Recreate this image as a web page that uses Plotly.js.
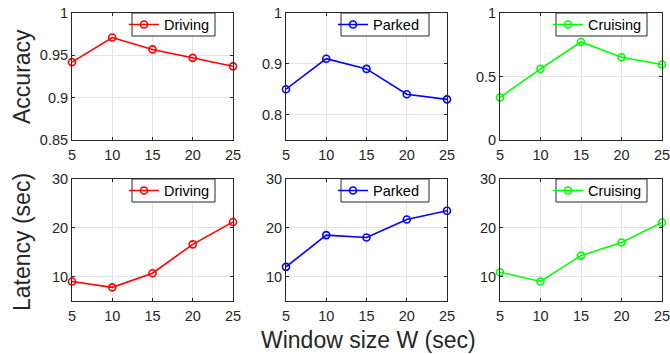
<!DOCTYPE html>
<html><head><meta charset="utf-8">
<script src="https://cdn.plot.ly/plotly-3.0.1.min.js"></script>
<style>html,body{margin:0;padding:0;background:#fff}#plot{width:670px;height:354px}</style>
</head><body><div id="plot"></div>
<script>
const windowSizes = [5, 10, 15, 20, 25];
const modes = ["Driving", "Parked", "Cruising"];
const colors = ["#ff0000", "#0000ff", "#00ff00"];
const accDriving = [0.942, 0.971, 0.957, 0.947, 0.937];
const accParked = [0.85, 0.91, 0.89, 0.84, 0.83];
const accCruising = [0.335, 0.56, 0.772, 0.651, 0.595];
const latDriving = [9.0, 7.8, 10.7, 16.6, 21.2];
const latParked = [12.0, 18.5, 18.0, 21.7, 23.5];
const latCruising = [10.9, 9.0, 14.3, 17.0, 21.1];
const accRanges = [[0.85, 1], [0.75, 1], [0, 1]];
const accTicks = [[0.85, 0.9, 0.95, 1], [0.8, 0.9, 1], [0, 0.5, 1]];
const accTickText = [["0.85", "0.9", "0.95", "1"], ["0.8", "0.9", "1"], ["0", "0.5", "1"]];
const latRange = [5, 30];
const latTicks = [10, 20, 30];
const xTicks = [5, 10, 15, 20, 25];
const yTitles = ["Accuracy", "Latency (sec)"];
const xTitle = "Window size W (sec)";

const accData = [accDriving, accParked, accCruising];
const latData = [latDriving, latParked, latCruising];

const W = 670, H = 354;
const xDomains = [[72/W, 233/W], [286/W, 447/W], [500/W, 662/W]];
const yTop = [(H-140)/H, (H-13)/H];
const yBot = [(H-301)/H, (H-179)/H];
// legend box extents in pixels (left, right) per column, (top, bottom) per row
const legBoxX = [[132, 215], [341, 429], [556, 647]];
const legBoxY = [[13, 36], [179, 202]];

const axisColor = "#262626";
const fam = "Liberation Sans, Arial, sans-serif";
const tickFont = {family: fam, size: 14.5, color: axisColor};

const traces = [];
const layout = {
  width: W, height: H,
  margin: {l: 0, r: 0, t: 0, b: 0},
  paper_bgcolor: "#fff", plot_bgcolor: "#fff",
  font: {family: fam, color: axisColor},
  annotations: [], shapes: []
};

function axisBase() {
  return {
    showline: true, linecolor: axisColor, linewidth: 1, mirror: "ticks",
    ticks: "inside", ticklen: 3, tickcolor: axisColor, tickwidth: 1,
    showgrid: true, gridcolor: "#e3e3e3", gridwidth: 1,
    zeroline: false, tickfont: tickFont, fixedrange: true,
    ticklabeloverflow: "allow"
  };
}

let idx = 0;
for (let row = 0; row < 2; row++) {
  for (let col = 0; col < 3; col++) {
    idx++;
    const xa = idx === 1 ? "x" : "x" + idx;
    const ya = idx === 1 ? "y" : "y" + idx;
    const lg = idx === 1 ? "legend" : "legend" + idx;
    const vals = row === 0 ? accData[col] : latData[col];
    traces.push({
      x: windowSizes, y: vals, xaxis: xa, yaxis: ya, legend: lg,
      name: modes[col], type: "scatter", mode: "lines+markers",
      line: {color: colors[col], width: 1.6},
      marker: {symbol: "circle-open", size: 7, color: colors[col], line: {width: 1.6, color: colors[col]}},
      cliponaxis: false, showlegend: true
    });
    const xk = idx === 1 ? "xaxis" : "xaxis" + idx;
    const yk = idx === 1 ? "yaxis" : "yaxis" + idx;
    layout[xk] = Object.assign(axisBase(), {
      domain: xDomains[col], anchor: ya, range: [5, 25],
      tickvals: xTicks, ticktext: xTicks.map(String), ticklabelstandoff: 2
    });
    if (row === 0) {
      layout[yk] = Object.assign(axisBase(), {
        domain: yTop, anchor: xa, range: accRanges[col],
        tickvals: accTicks[col], ticktext: accTickText[col]
      });
    } else {
      layout[yk] = Object.assign(axisBase(), {
        domain: yBot, anchor: xa, range: latRange,
        tickvals: latTicks, ticktext: latTicks.map(String)
      });
    }
    const bx = legBoxX[col], by = legBoxY[row];
    layout.shapes.push({
      type: "rect", xref: "paper", yref: "paper", layer: "above",
      x0: bx[0]/W, x1: bx[1]/W, y0: (H-by[1])/H, y1: (H-by[0])/H,
      fillcolor: "#ffffff", line: {color: axisColor, width: 1}
    });
    layout[lg] = {
      x: (bx[0] - 8)/W, xanchor: "left", xref: "paper",
      y: (H-(by[0]+by[1])/2)/H, yanchor: "middle", yref: "paper",
      bgcolor: "rgba(0,0,0,0)", borderwidth: 0,
      font: {family: fam, size: 14.5, color: "#000"},
      itemwidth: 30, tracegroupgap: 0, valign: "middle"
    };
  }
}

layout.annotations.push({
  text: yTitles[0], xref: "paper", yref: "paper", x: 22/W, y: (H-77)/H,
  textangle: -90, showarrow: false, xanchor: "center", yanchor: "middle",
  font: {size: 23, color: axisColor}
});
layout.annotations.push({
  text: yTitles[1], xref: "paper", yref: "paper", x: 22/W, y: (H-242)/H,
  textangle: -90, showarrow: false, xanchor: "center", yanchor: "middle",
  font: {size: 23, color: axisColor}
});
layout.annotations.push({
  text: xTitle, xref: "paper", yref: "paper", x: 368/W, y: (H-340)/H,
  showarrow: false, xanchor: "center", yanchor: "middle",
  font: {size: 23, color: axisColor}
});

Plotly.newPlot("plot", traces, layout, {staticPlot: true, displayModeBar: false});
</script></body></html>
